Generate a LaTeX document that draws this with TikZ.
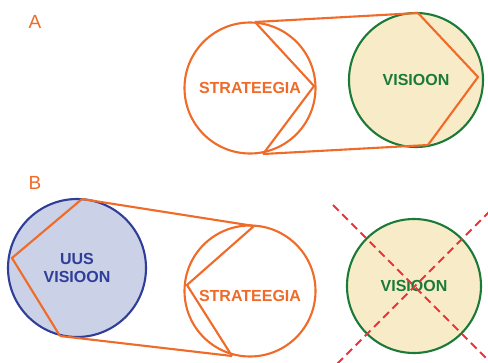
\documentclass[tikz,border=0pt]{standalone}
\usepackage{fontspec}
\setmainfont{Liberation Sans}
\begin{document}
\definecolor{strat}{HTML}{F06A28}
\definecolor{visgreen}{HTML}{1C7A38}
\definecolor{viscream}{HTML}{F8ECC8}
\definecolor{newblue}{HTML}{2F3E98}
\definecolor{newfill}{HTML}{CBD1E6}
\definecolor{cross}{HTML}{F0303A}
\begin{tikzpicture}[x=1pt,y=-1pt,
  disc/.style={circle,inner sep=0pt,line width=2.1pt},
  stratdisc/.style={disc,draw=strat,fill=white,minimum size=131pt},
  visdisc/.style={disc,draw=visgreen,fill=viscream,minimum size=134pt},
  newdisc/.style={disc,draw=newblue,fill=newfill,minimum size=138pt},
  belt/.style={draw=strat,line width=2.1pt,line join=miter},
  word/.style={font=\bfseries\fontsize{16}{18.5}\selectfont,align=center},
  tag/.style={text=strat,font=\fontsize{19}{21}\selectfont},
  xline/.style={draw=cross,line width=2.1pt,dash pattern=on 8pt off 5pt}]
\useasboundingbox[fill=white] (0,0) rectangle (488,362);

% ---- A: strategy leads to vision ----
\node[tag] (la) at (35,22) {A};
\node[stratdisc] (sa) at (250,88) {};
\node[visdisc] (va) at (416,80) {};
\coordinate (sa1) at (255,22);
\coordinate (sa2) at (314,86);
\coordinate (sa3) at (263,154);
\coordinate (va1) at (418,13);
\coordinate (va2) at (478,77);
\coordinate (va3) at (428,145);
\draw[belt] (sa1) -- (sa2) -- (sa3);
\draw[belt] (va1) -- (va2) -- (va3);
\draw[belt] (sa1) -- (va1);
\draw[belt] (sa3) -- (va3);
\node[word,text=strat] at (sa) {STRATEEGIA};
\node[word,text=visgreen] at (va) {VISIOON};

% ---- B: new vision leads strategy ----
\node[tag] (lb) at (35,183) {B};
\node[newdisc] (nb) at (77,268) {};
\node[stratdisc] (sb) at (250,291) {};
\node[visdisc] (vb) at (414,286) {};
\coordinate (nb1) at (82,199);
\coordinate (nb2) at (12,258);
\coordinate (nb3) at (60,336);
\coordinate (sb1) at (254,226);
\coordinate (sb2) at (187,285);
\coordinate (sb3) at (232,356);
\draw[belt] (nb1) -- (nb2) -- (nb3);
\draw[belt] (sb1) -- (sb2) -- (sb3);
\draw[belt] (nb1) -- (sb1);
\draw[belt] (nb3) -- (sb3);
\node[word,text=newblue] at (nb) {UUS\\VISIOON};
\node[word,text=strat] at ([yshift=-5pt]sb) {STRATEEGIA};
\node[word,text=visgreen] at (vb) {VISIOON};
\coordinate (x1) at (333,205);
\coordinate (x2) at (496,368);
\coordinate (x3) at (490,211);
\coordinate (x4) at (336,365);
\draw[xline] (x1) -- (x2);
\draw[xline] (x3) -- (x4);
\end{tikzpicture}
\end{document}
